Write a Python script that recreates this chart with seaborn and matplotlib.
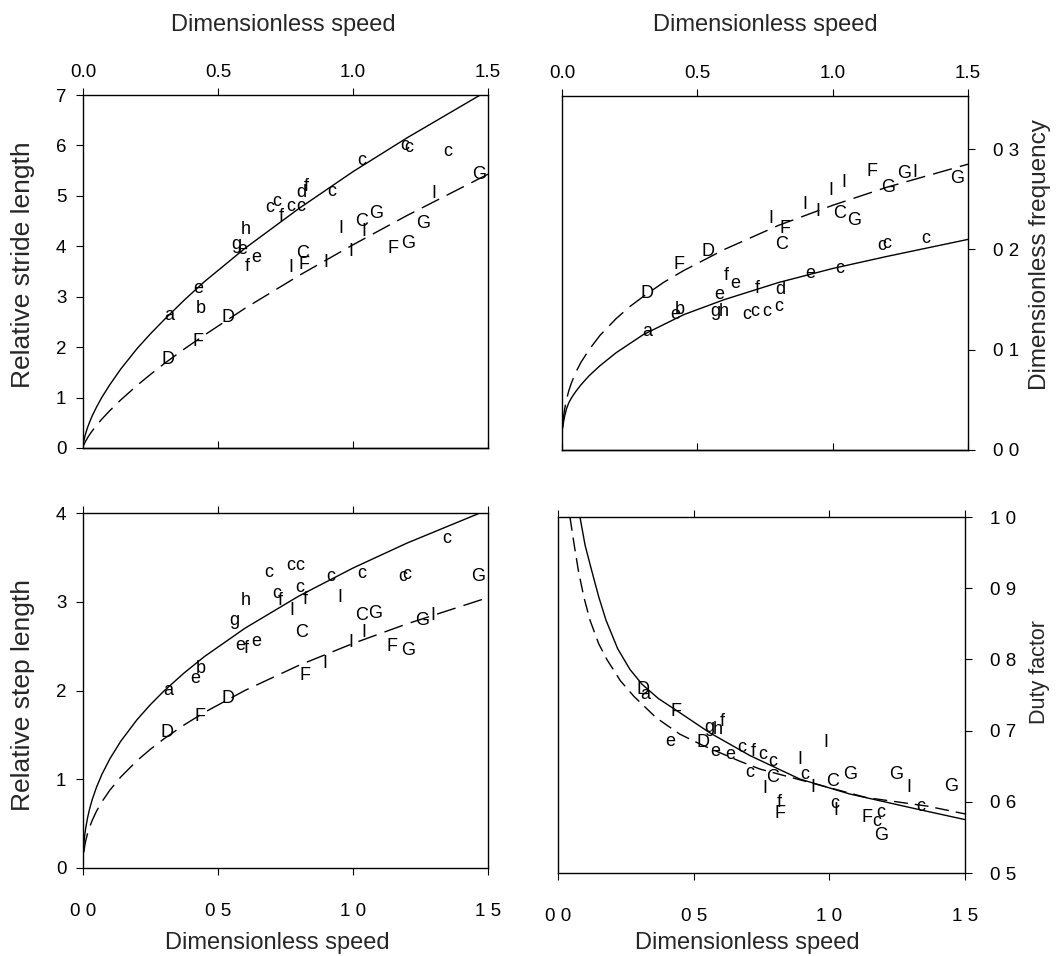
import matplotlib
matplotlib.use('Agg')
import matplotlib.pyplot as plt
import seaborn as sns

# ---------------- data ----------------
speed_ticks = [0.0, 0.5, 1.0, 1.5]
speed_labels_top = ['0.0', '0.5', '1.0', '1.5']
speed_labels_bottom = ['0 0', '0 5', '1 0', '1 5']

# fitted curves, sampled along speed
curve_x = [0.003, 0.006, 0.01, 0.017, 0.025, 0.035, 0.05, 0.07, 0.1, 0.14, 0.2, 0.25, 0.3, 0.375,
           0.45, 0.6, 0.8, 1.0, 1.2, 1.5]
stride_solid = [0.135, 0.211, 0.29, 0.409, 0.52, 0.648, 0.81, 1.007, 1.26, 1.567, 1.97, 2.266, 2.54, 2.933,
                3.30, 3.96, 4.75, 5.48, 6.15, 7.09]
stride_dash = [0.057, 0.095, 0.138, 0.203, 0.27, 0.345, 0.45, 0.574, 0.745, 0.954, 1.24, 1.459, 1.67, 1.963,
               2.24, 2.77, 3.42, 4.03, 4.61, 5.43]
freq_solid = [0.022, 0.0285, 0.034, 0.0414, 0.047, 0.052, 0.058, 0.065, 0.074, 0.084, 0.097, 0.106, 0.115, 0.125,
              0.135, 0.150, 0.167, 0.181, 0.193, 0.210]
freq_dash = [0.026, 0.034, 0.041, 0.0506, 0.059, 0.067, 0.077, 0.0874, 0.100, 0.1142, 0.131, 0.1429, 0.153, 0.1671,
             0.179, 0.200, 0.224, 0.244, 0.262, 0.285]
step_solid = [0.265, 0.36, 0.45, 0.567, 0.672, 0.779, 0.91, 1.055, 1.233, 1.429, 1.671, 1.842, 1.995, 2.199,
              2.383, 2.702, 3.065, 3.38, 3.661, 4.037]
step_dash = [0.176, 0.242, 0.306, 0.39, 0.465, 0.543, 0.64, 0.747, 0.879, 1.026, 1.209, 1.339, 1.456, 1.613,
             1.754, 2.001, 2.284, 2.53, 2.751, 3.047]

duty_solid_x = [0.081, 0.1, 0.124, 0.15, 0.177, 0.22, 0.265, 0.31, 0.37, 0.434, 0.559, 0.707, 0.891, 1.075, 1.32, 1.5]
duty_solid_y = [1.0, 0.96, 0.925, 0.888, 0.855, 0.815, 0.786, 0.765, 0.745, 0.729, 0.697, 0.665, 0.632, 0.611, 0.590, 0.575]
duty_dash_x = [0.044, 0.06, 0.075, 0.095, 0.118, 0.15, 0.18, 0.23, 0.28, 0.362, 0.449, 0.535, 0.67, 0.744, 0.9, 1.136, 1.36, 1.5]
duty_dash_y = [1.0, 0.96, 0.925, 0.888, 0.855, 0.822, 0.80, 0.77, 0.748, 0.718, 0.695, 0.679, 0.657, 0.646, 0.630, 0.606, 0.594, 0.583]

# letter symbols (species codes) for each panel
stride_sym = ['a', 'e', 'b', 'D', 'F', 'D', 'g', 'e', 'h', 'f', 'e', 'c', 'c', 'f', 'c', 'c', 'd', 'f', 'c',
              'c', 'c', 'c', 'c', 'G', 'I', 'I', 'C', 'G', 'I', 'G', 'F', 'G', 'C', 'I', 'F', 'I', 'I']
stride_x = [0.32, 0.425, 0.435, 0.314, 0.425, 0.536, 0.567, 0.588, 0.604, 0.61, 0.641, 0.69, 0.719, 0.734,
            0.77, 0.808, 0.808, 0.826, 0.922, 1.033, 1.19, 1.205, 1.35, 1.467, 1.30, 0.956, 1.03, 1.085,
            1.04, 1.26, 1.147, 1.205, 0.814, 0.77, 0.82, 0.90, 0.993]
stride_y = [2.62, 3.17, 2.77, 1.75, 2.11, 2.58, 4.03, 3.94, 4.33, 3.6, 3.78, 4.76, 4.89, 4.59, 4.79, 4.79,
            5.07, 5.18, 5.09, 5.71, 5.99, 5.96, 5.88, 5.42, 5.05, 4.36, 4.49, 4.66, 4.29, 4.46, 3.96, 4.06,
            3.86, 3.57, 3.63, 3.68, 3.90]

freq_sym = ['D', 'a', 'e', 'b', 'F', 'D', 'e', 'g', 'h', 'f', 'e', 'c', 'c', 'c', 'c', 'd', 'f', 'e', 'c',
            'c', 'c', 'c', 'C', 'F', 'I', 'I', 'I', 'I', 'I', 'C', 'G', 'F', 'G', 'G', 'I', 'G']
freq_x = [0.314, 0.316, 0.418, 0.434, 0.434, 0.541, 0.582, 0.566, 0.599, 0.606, 0.64, 0.683, 0.713, 0.756,
          0.80, 0.806, 0.722, 0.916, 1.025, 1.18, 1.2, 1.344, 0.81, 0.824, 0.771, 0.898, 0.947, 0.993,
          1.04, 1.025, 1.08, 1.144, 1.205, 1.263, 1.304, 1.46]
freq_y = [0.156, 0.118, 0.135, 0.140, 0.185, 0.198, 0.155, 0.138, 0.138, 0.174, 0.166, 0.135, 0.138, 0.138,
          0.143, 0.160, 0.161, 0.176, 0.181, 0.204, 0.206, 0.211, 0.205, 0.221, 0.231, 0.245, 0.238, 0.259,
          0.267, 0.236, 0.229, 0.278, 0.262, 0.276, 0.277, 0.271]

step_sym = ['a', 'e', 'b', 'D', 'F', 'D', 'g', 'h', 'e', 'f', 'e', 'c', 'c', 'f', 'c', 'c', 'c', 'f', 'I',
            'C', 'c', 'I', 'c', 'c', 'c', 'c', 'G', 'C', 'G', 'I', 'I', 'G', 'I', 'F', 'G', 'F', 'I']
step_x = [0.316, 0.417, 0.436, 0.312, 0.433, 0.537, 0.559, 0.603, 0.584, 0.603, 0.64, 0.689, 0.718, 0.73,
          0.77, 0.804, 0.804, 0.822, 0.772, 0.809, 0.918, 0.953, 1.032, 1.184, 1.2, 1.349, 1.463, 1.03,
          1.082, 1.04, 0.993, 1.255, 1.296, 1.144, 1.205, 0.823, 0.896]
step_y = [2.0, 2.13, 2.25, 1.53, 1.71, 1.91, 2.79, 3.01, 2.51, 2.47, 2.55, 3.33, 3.09, 3.01, 3.41, 3.41,
          3.16, 3.02, 2.90, 2.65, 3.29, 3.05, 3.32, 3.29, 3.31, 3.71, 3.29, 2.84, 2.87, 2.65, 2.54, 2.79,
          2.84, 2.50, 2.45, 2.17, 2.30]

duty_sym = ['D', 'a', 'F', 'g', 'h', 'f', 'e', 'D', 'e', 'e', 'c', 'f', 'c', 'c', 'c', 'C', 'I', 'I', 'c',
            'I', 'I', 'C', 'G', 'f', 'F', 'c', 'I', 'G', 'I', 'G', 'c', 'F', 'c', 'c', 'G']
duty_x = [0.314, 0.32, 0.434, 0.559, 0.589, 0.606, 0.412, 0.535, 0.578, 0.633, 0.676, 0.721, 0.756, 0.792,
          0.707, 0.792, 0.762, 0.891, 0.909, 0.94, 0.986, 1.013, 1.075, 0.817, 0.817, 1.02, 1.025, 1.246,
          1.293, 1.449, 1.338, 1.14, 1.175, 1.19, 1.19]
duty_y = [0.758, 0.751, 0.727, 0.704, 0.702, 0.713, 0.685, 0.683, 0.670, 0.667, 0.676, 0.671, 0.667, 0.657,
          0.641, 0.634, 0.618, 0.660, 0.639, 0.620, 0.683, 0.629, 0.639, 0.599, 0.583, 0.598, 0.588, 0.639,
          0.620, 0.622, 0.594, 0.578, 0.572, 0.585, 0.553]

stride_ticks = [0, 1, 2, 3, 4, 5, 6, 7]
step_ticks = [0, 1, 2, 3, 4]
freq_ticks = [0.0, 0.1, 0.2, 0.3]
freq_labels = ['0 0', '0 1', '0 2', '0 3']
duty_ticks = [0.5, 0.6, 0.7, 0.8, 0.9, 1.0]
duty_labels = ['0 5', '0 6', '0 7', '0 8', '0 9', '1 0']

# ---------------- style ----------------
sns.set_style('ticks')
plt.rcParams['font.family'] = ['Liberation Sans', 'DejaVu Sans']
plt.rcParams['axes.linewidth'] = 1.0
plt.rcParams['axes.edgecolor'] = 'black'
plt.rcParams['xtick.color'] = 'black'
plt.rcParams['ytick.color'] = 'black'

W, H = 1063, 956
fig = plt.figure(figsize=(W / 100, H / 100), dpi=100)


def rect(left, top, right, bottom):
    return [left / W, 1 - bottom / H, (right - left) / W, (bottom - top) / H]


TICK_FS = 13.5
SYM_FS = 13


def draw_panel(ax, solid_x, solid_y, dash_x, dash_y, syms, xs, ys, dash=(0, (14, 6))):
    sns.lineplot(x=solid_x, y=solid_y, ax=ax, color='black', lw=1.0)
    sns.lineplot(x=dash_x, y=dash_y, ax=ax, color='black', lw=1.0, linestyle=dash)
    for s, x, y in zip(syms, xs, ys):
        ax.text(x, y, s, ha='center', va='center', fontsize=SYM_FS, color='black')
    ax.set_xlim(0, 1.5)
    for sp in ax.spines.values():
        sp.set_visible(True)


# top left: stride length
ax1 = fig.add_axes(rect(83, 95, 488, 448))
draw_panel(ax1, curve_x, stride_solid, curve_x, stride_dash, stride_sym, stride_x, stride_y)
ax1.set_ylim(0, 7)
ax1.set_xticks(speed_ticks, labels=speed_labels_top)
ax1.set_yticks(stride_ticks)
ax1.tick_params(axis='x', top=True, bottom=False, labeltop=True, labelbottom=False,
                direction='out', length=5, pad=5, labelsize=TICK_FS)
ax1.tick_params(axis='y', left=True, right=False, direction='out', length=5, pad=7, labelsize=TICK_FS)
sec1 = ax1.secondary_xaxis('bottom')
sec1.set_xticks(speed_ticks, labels=[])
sec1.tick_params(direction='in', length=5)

# top right: frequency
ax2 = fig.add_axes(rect(562, 96, 968, 450))
draw_panel(ax2, curve_x, freq_solid, curve_x, freq_dash, freq_sym, freq_x, freq_y)
ax2.set_ylim(0, 0.353)
ax2.set_xticks(speed_ticks, labels=speed_labels_top)
ax2.set_yticks(freq_ticks, labels=freq_labels)
ax2.tick_params(axis='x', top=True, bottom=False, labeltop=True, labelbottom=False,
                direction='out', length=5, pad=5, labelsize=TICK_FS)
ax2.tick_params(axis='y', left=False, right=True, labelleft=False, labelright=True,
                direction='out', length=5, pad=13, labelsize=TICK_FS)
sec2 = ax2.secondary_xaxis('bottom')
sec2.set_xticks(speed_ticks, labels=[])
sec2.tick_params(direction='in', length=5)

# bottom left: step length
ax3 = fig.add_axes(rect(83, 513, 488, 868))
draw_panel(ax3, curve_x, step_solid, curve_x, step_dash, step_sym, step_x, step_y)
ax3.set_ylim(0, 4)
ax3.set_xticks(speed_ticks, labels=speed_labels_bottom)
ax3.set_yticks(step_ticks)
ax3.tick_params(axis='x', top=True, bottom=True, labeltop=False, labelbottom=True,
                direction='out', length=5, pad=20, labelsize=TICK_FS)
ax3.tick_params(axis='y', left=True, right=False, direction='out', length=5, pad=7, labelsize=TICK_FS)

# bottom right: duty factor
ax4 = fig.add_axes(rect(558, 517, 965, 873))
draw_panel(ax4, duty_solid_x, duty_solid_y, duty_dash_x, duty_dash_y, duty_sym, duty_x, duty_y,
           dash=(0, (10, 5)))
ax4.set_ylim(0.5, 1.0)
ax4.set_xticks(speed_ticks, labels=speed_labels_bottom)
ax4.set_yticks(duty_ticks, labels=duty_labels)
ax4.tick_params(axis='x', top=True, bottom=True, labeltop=False, labelbottom=True,
                direction='out', length=5, pad=20, labelsize=TICK_FS)
ax4.tick_params(axis='y', left=False, right=True, labelleft=False, labelright=True,
                direction='out', length=5, pad=13, labelsize=TICK_FS)

# axis titles
fig.text(283 / W, 1 - 25 / H, 'Dimensionless speed', ha='center', va='center', fontsize=17)
fig.text(765 / W, 1 - 25 / H, 'Dimensionless speed', ha='center', va='center', fontsize=17)
fig.text(277 / W, 1 - 943 / H, 'Dimensionless speed', ha='center', va='center', fontsize=17)
fig.text(747 / W, 1 - 943 / H, 'Dimensionless speed', ha='center', va='center', fontsize=17)
fig.text(23 / W, 1 - 265 / H, 'Relative stride length', rotation=90, ha='center', va='center', fontsize=19)
fig.text(23 / W, 1 - 695 / H, 'Relative step length', rotation=90, ha='center', va='center', fontsize=19)
fig.text(1040 / W, 1 - 255 / H, 'Dimensionless frequency', rotation=90, ha='center', va='center', fontsize=17.5)
fig.text(1040 / W, 1 - 672 / H, 'Duty factor', rotation=90, ha='center', va='center', fontsize=15.5)

fig.savefig('out.png', dpi=100)
plt.close(fig)
